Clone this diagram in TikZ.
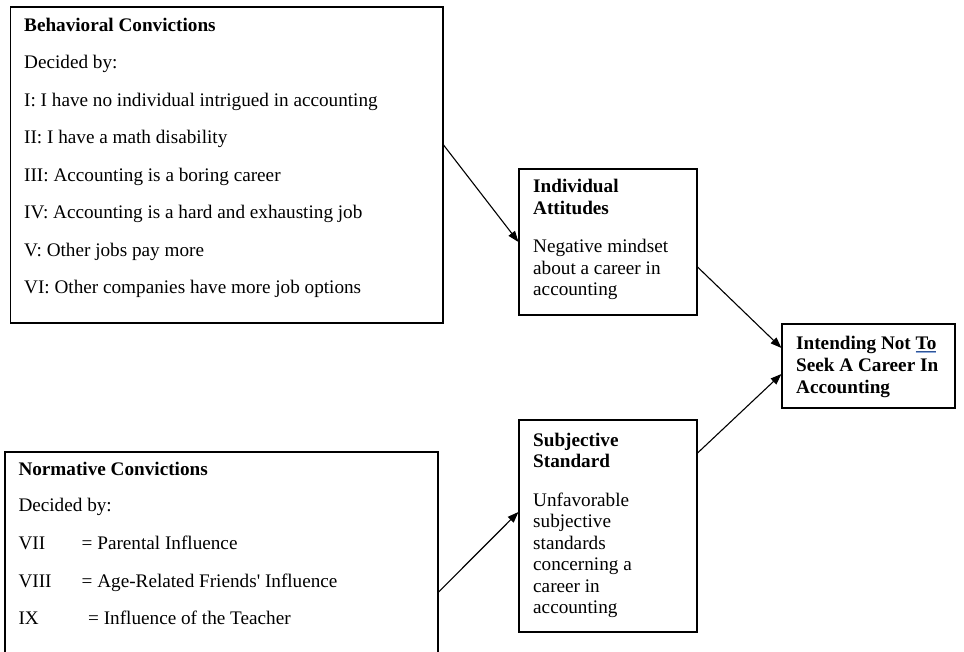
\documentclass[tikz,border=0pt]{standalone}
\usepackage{fontspec}
\setmainfont{Liberation Serif}
\usetikzlibrary{arrows.meta}
\definecolor{ulblue}{RGB}{47,84,150}
\definecolor{ulbluelight}{RGB}{142,170,219}
\newcommand{\spellmark}[1]{\setbox0\hbox{#1}\rlap{\textcolor{ulblue}{\rule[-2.6pt]{\wd0}{0.9pt}}}\rlap{\textcolor{ulbluelight}{\rule[-4.2pt]{\wd0}{0.8pt}}}#1}
\newcommand{\straightquote}{{\addfontfeatures{Ligatures=TeXOff}'}}
\begin{document}
\begin{tikzpicture}[x=1pt,y=-1pt,
  box/.style={draw=black,line width=1.1pt,inner sep=0pt,rectangle},
  txt/.style={anchor=base west,inner sep=0pt,font=\fontsize{19.2}{21.5}\selectfont},
  hd/.style={anchor=base west,inner sep=0pt,font=\fontsize{19.2}{21.5}\selectfont\bfseries},
  arr/.style={line width=1.1pt,-{Triangle[length=11pt,width=8pt]}}]
\clip (0,0) rectangle (964,652);
\fill[white] (0,0) rectangle (964,652);

% boxes
\node[box,minimum width=432.5pt,minimum height=316pt] (b1) at (226.75,165) {};
\node[box,minimum width=178pt,minimum height=146pt] (b2) at (608,242) {};
\node[box,minimum width=173pt,minimum height=84pt] (b3) at (868.5,366) {};
\node[box,minimum width=178pt,minimum height=212pt] (b4) at (608,526) {};
\node[box,minimum width=433pt,minimum height=208pt] (b5) at (221.5,556) {};

% box 1 text
\node[hd]  (b1t0) at (24,31.5)  {Behavioral Convictions};
\node[txt] (b1t1) at (24,69)    {Decided by:};
\node[txt] (b1t2) at (24,106.5) {I: I have no individual intrigued in accounting};
\node[txt] (b1t3) at (24,144)   {II: I have a math disability};
\node[txt] (b1t4) at (24,181.5) {III: Accounting is a boring career};
\node[txt] (b1t5) at (24,219)   {IV: Accounting is a hard and exhausting job};
\node[txt] (b1t6) at (24,256.5) {V: Other jobs pay more};
\node[txt] (b1t7) at (24,294)   {VI: Other companies have more job options};

% box 2 text
\node[hd]  (b2t0) at (533,193)   {Individual};
\node[hd]  (b2t1) at (533,214.5) {Attitudes};
\node[txt] (b2t2) at (533,253)   {Negative mindset};
\node[txt] (b2t3) at (533,274.5) {about a career in};
\node[txt] (b2t4) at (533,296)   {accounting};

% box 3 text
\node[hd] (b3t0) at (796,349) {Intending Not \spellmark{To}};
\node[hd] (b3t1) at (796,371) {Seek A Career In};
\node[hd] (b3t2) at (796,393) {Accounting};

% box 4 text
\node[hd]  (b4t0) at (533,446.5) {Subjective};
\node[hd]  (b4t1) at (533,467.5) {Standard};
\node[txt] (b4t2) at (533,506)   {Unfavorable};
\node[txt] (b4t3) at (533,527.5) {subjective};
\node[txt] (b4t4) at (533,549)   {standards};
\node[txt] (b4t5) at (533,570.5) {concerning a};
\node[txt] (b4t6) at (533,592)   {career in};
\node[txt] (b4t7) at (533,613.5) {accounting};

% box 5 text
\node[hd]  (b5t0) at (18.3,475.5) {Normative Convictions};
\node[txt] (b5t1) at (18.3,511.5) {Decided by:};
\node[txt] (b5t2) at (18.3,549.5) {VII};
\node[txt] (b5t2b) at (81.5,549.5) {= Parental Influence};
\node[txt] (b5t3) at (18.3,587) {VIII};
\node[txt] (b5t3b) at (81.5,587) {= Age-Related Friends\straightquote{} Influence};
\node[txt] (b5t4) at (18.3,624.5) {IX};
\node[txt] (b5t4b) at (88,624.5) {= Influence of the Teacher};

% arrows
\draw[arr] ([yshift=20pt]b1.east) -- (b2.west);
\draw[arr] ([yshift=-25pt]b2.east) -- ([yshift=18pt]b3.west);
\draw[arr] ([yshift=73pt]b4.east) -- ([yshift=-8pt]b3.west);
\draw[arr] ([yshift=-36pt]b5.east) -- ([yshift=14pt]b4.west);
\end{tikzpicture}
\end{document}
